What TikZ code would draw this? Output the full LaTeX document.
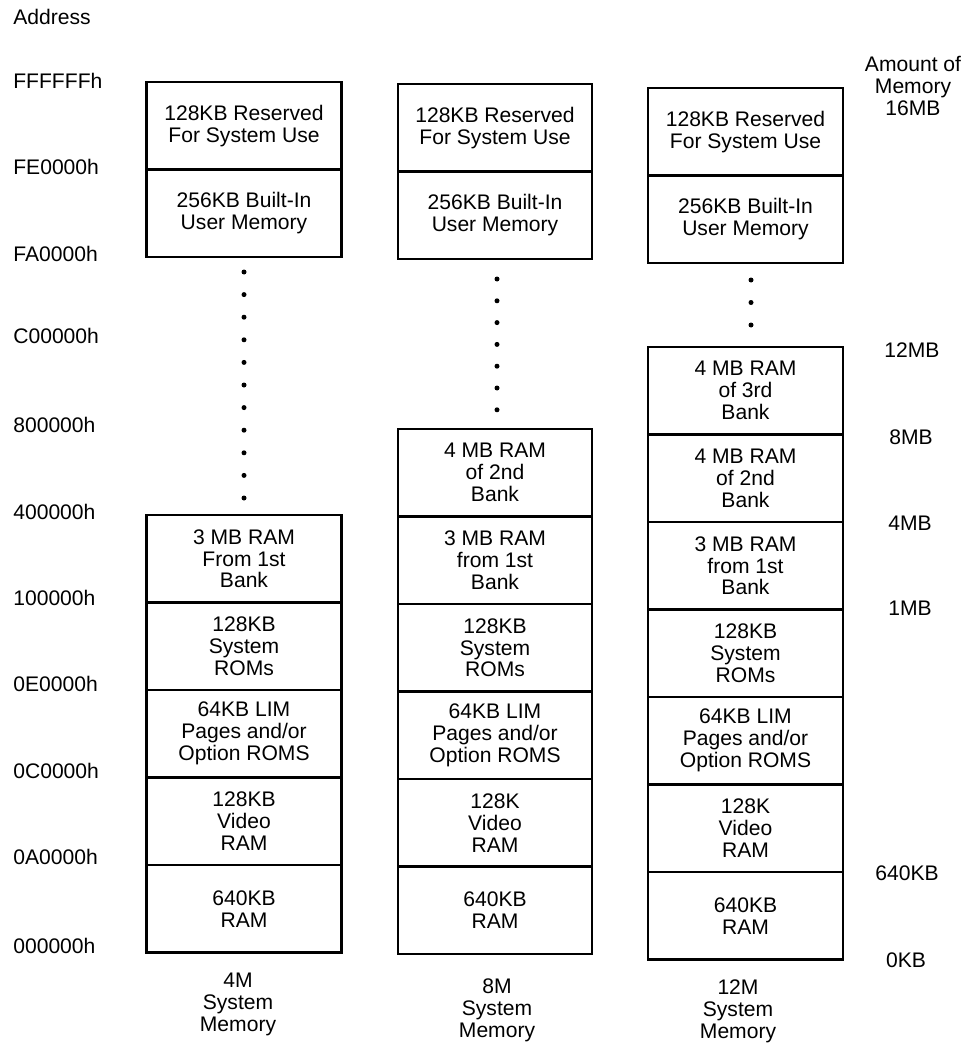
\documentclass[tikz,border=0pt]{standalone}
\usepackage{fontspec}
\setmainfont{Liberation Sans}

\begin{document}
\begin{tikzpicture}[x=0.02cm, y=-0.02cm,
		memnode/.style={draw, line width=1.4pt, minimum width=3.9cm, minimum height=1.75cm, align=center, inner sep=0pt, font=\fontsize{12}{12.5}\selectfont},
		lbl/.style={align=center, inner sep=0pt, font=\fontsize{12}{12.5}\selectfont},
		addr/.style={anchor=west, inner sep=0pt, font=\fontsize{12}{12.5}\selectfont}
	]
	\useasboundingbox (0,0) rectangle (964,1044);

	% address column
	\node[addr] (address) at (13,17) {Address};
	\node[addr] (aFFFFFF) at (13,81) {FFFFFFh};
	\node[addr] (aFE0000) at (13,167) {FE0000h};
	\node[addr] (aFA0000) at (13,254) {FA0000h};
	\node[addr] (aC00000) at (13,336) {C00000h};
	\node[addr] (a800000) at (13,425) {800000h};
	\node[addr] (a400000) at (13,512) {400000h};
	\node[addr] (a100000) at (13,598) {100000h};
	\node[addr] (a0E0000) at (13,684) {0E0000h};
	\node[addr] (a0C0000) at (13,771) {0C0000h};
	\node[addr] (a0A0000) at (13,857) {0A0000h};
	\node[addr] (a000000) at (13,946) {000000h};

	% 4M system memory
	\node[memnode] (c1res) at (244,125.75) {128KB Reserved\\For System Use};
	\node[memnode] (c1usr) at (244,213.25) {256KB Built-In\\User Memory};
	\node[memnode] (c1bank1) at (244,558.75) {3 MB RAM\\From 1st\\Bank};
	\node[memnode] (c1rom) at (244,646.25) {128KB\\System\\ROMs};
	\node[memnode] (c1lim) at (244,733.75) {64KB LIM\\Pages and/or\\Option ROMS};
	\node[memnode] (c1vid) at (244,821.25) {128KB\\Video\\RAM};
	\node[memnode] (c1base) at (244,908.75) {640KB\\RAM};
	\node[lbl] (c1name) at (238,1004) {4M\\System\\Memory};

	\fill (244,272) circle[radius=0.05cm];
	\fill (244,294.6) circle[radius=0.05cm];
	\fill (244,317.2) circle[radius=0.05cm];
	\fill (244,339.8) circle[radius=0.05cm];
	\fill (244,362.4) circle[radius=0.05cm];
	\fill (244,385) circle[radius=0.05cm];
	\fill (244,407.6) circle[radius=0.05cm];
	\fill (244,430.2) circle[radius=0.05cm];
	\fill (244,452.8) circle[radius=0.05cm];
	\fill (244,475.4) circle[radius=0.05cm];
	\fill (244,498) circle[radius=0.05cm];

	% 8M system memory
	\node[memnode, minimum width=3.88cm] (c2res) at (495,127.75) {128KB Reserved\\For System Use};
	\node[memnode, minimum width=3.88cm] (c2usr) at (495,215.25) {256KB Built-In\\User Memory};
	\node[memnode, minimum width=3.88cm] (c2bank2) at (495,472.75) {4 MB RAM\\of 2nd\\Bank};
	\node[memnode, minimum width=3.88cm] (c2bank1) at (495,560.25) {3 MB RAM\\from 1st\\Bank};
	\node[memnode, minimum width=3.88cm] (c2rom) at (495,647.75) {128KB\\System\\ROMs};
	\node[memnode, minimum width=3.88cm] (c2lim) at (495,735.25) {64KB LIM\\Pages and/or\\Option ROMS};
	\node[memnode, minimum width=3.88cm] (c2vid) at (495,822.75) {128K\\Video\\RAM};
	\node[memnode, minimum width=3.88cm] (c2base) at (495,910.25) {640KB\\RAM};
	\node[lbl] (c2name) at (497,1010) {8M\\System\\Memory};

	\fill (497,279) circle[radius=0.05cm];
	\fill (497,300.8) circle[radius=0.05cm];
	\fill (497,322.6) circle[radius=0.05cm];
	\fill (497,344.4) circle[radius=0.05cm];
	\fill (497,366.2) circle[radius=0.05cm];
	\fill (497,388) circle[radius=0.05cm];
	\fill (497,409.8) circle[radius=0.05cm];

	% 12M system memory
	\node[memnode] (c3res) at (745.5,131.75) {128KB Reserved\\For System Use};
	\node[memnode] (c3usr) at (745.5,219.25) {256KB Built-In\\User Memory};
	\node[memnode] (c3bank3) at (745.5,390.75) {4 MB RAM\\of 3rd\\Bank};
	\node[memnode] (c3bank2) at (745.5,478.25) {4 MB RAM\\of 2nd\\Bank};
	\node[memnode] (c3bank1) at (745.5,565.75) {3 MB RAM\\from 1st\\Bank};
	\node[memnode] (c3rom) at (745.5,653.25) {128KB\\System\\ROMs};
	\node[memnode] (c3lim) at (745.5,740.75) {64KB LIM\\Pages and/or\\Option ROMS};
	\node[memnode] (c3vid) at (745.5,828.25) {128K\\Video\\RAM};
	\node[memnode] (c3base) at (745.5,915.75) {640KB\\RAM};
	\node[lbl] (c3name) at (738,1011) {12M\\System\\Memory};

	\fill (751,280) circle[radius=0.05cm];
	\fill (751,302.5) circle[radius=0.05cm];
	\fill (751,325) circle[radius=0.05cm];

	% amount of memory
	\node[lbl] (amount) at (913,86) {Amount of\\Memory\\16MB};
	\node[lbl] (m12) at (912,350) {12MB};
	\node[lbl] (m8) at (911,437) {8MB};
	\node[lbl] (m4) at (910,523) {4MB};
	\node[lbl] (m1) at (910,608) {1MB};
	\node[lbl] (m640) at (907,873) {640KB};
	\node[lbl] (m0) at (906,960) {0KB};
\end{tikzpicture}
\end{document}
